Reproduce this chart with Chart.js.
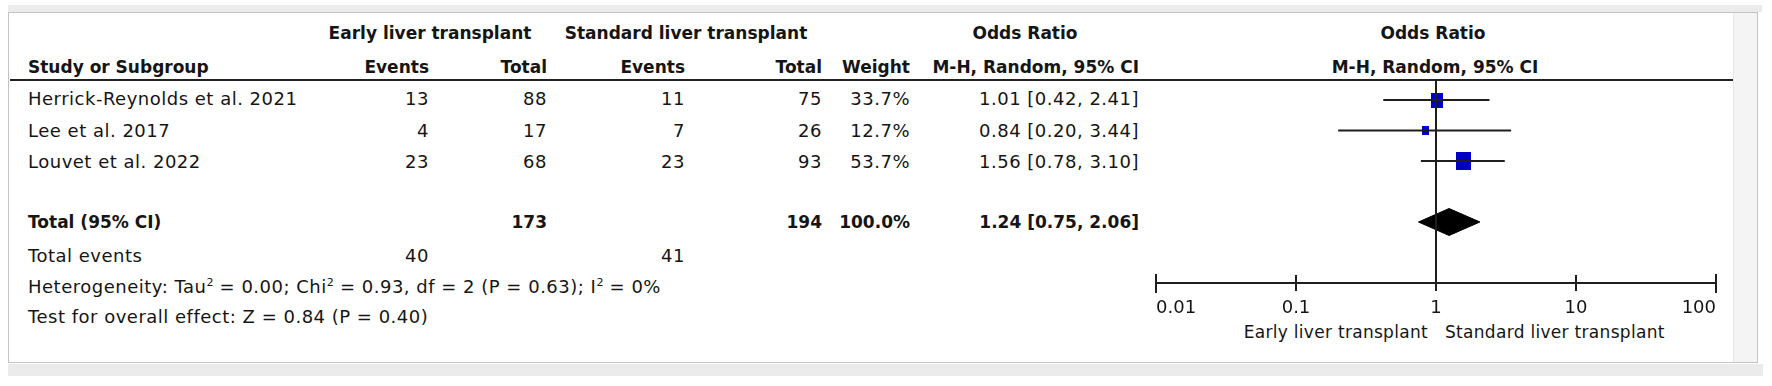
<!DOCTYPE html>
<html>
<head>
<meta charset="utf-8">
<script src="https://cdn.jsdelivr.net/npm/chart.js@4.4.1/dist/chart.umd.min.js"></script>
<style>
  html, body { margin: 0; padding: 0; background: #fff; }
  body { width: 1772px; height: 386px; position: relative; overflow: hidden;
         font-family: "DejaVu Sans", sans-serif; font-size: 18px; color: #151515; }
  .t { position: absolute; white-space: nowrap; line-height: 22px; letter-spacing: 0.5px; z-index: 3; }
  .b { font-weight: bold; letter-spacing: 0; font-size: 17px; }
  .s { font-size: 17px; letter-spacing: 0.3px; }
  .sup { font-size: 11px; position: relative; top: -7px; letter-spacing: 0; }
  #topband { position: absolute; left: 8px; top: 5px; width: 1754px; height: 7px; background: #ebebeb; }
  #panel { position: absolute; left: 8px; top: 12px; width: 1750px; height: 351px; box-sizing: border-box;
           border: 1px solid #c4c4c4; background: #fff; }
  #strip { position: absolute; left: 1733px; top: 13px; width: 24px; height: 349px; background: #f4f4f4;
           border-left: 1px solid #e4e4e4; box-sizing: border-box; }
  #bottomband { position: absolute; left: 8px; top: 364px; width: 1755px; height: 12px; background: #ebebeb; }
  #headline { position: absolute; left: 10px; top: 79px; width: 1723px; height: 2px; background: #222; z-index: 2; }
  #forest { position: absolute; left: 1120px; top: 60px; z-index: 4; }
</style>
</head>
<body>
<div id="topband"></div>
<div id="panel"></div>
<div id="strip"></div>
<div id="bottomband"></div>
<div id="headline"></div>
<canvas id="forest" width="640" height="260"></canvas>
<script>
// Study data
const studies = ["Herrick-Reynolds et al. 2021", "Lee et al. 2017", "Louvet et al. 2022"];
const earlyEvents = [13, 4, 23];
const earlyTotal = [88, 17, 68];
const standardEvents = [11, 7, 23];
const standardTotal = [75, 26, 93];
const weights = [33.7, 12.7, 53.7];
const weightTotal = 100.0;
const oddsRatio = [1.01, 0.84, 1.56];
const ciLow = [0.42, 0.20, 0.78];
const ciHigh = [2.41, 3.44, 3.10];

// Pooled estimate: OR, lower, upper
const pooled = [1.24, 0.75, 2.06];

// Statistics lines
const heterogeneity = [0.00, 0.93, 2, 0.63, 0]; // Tau2, Chi2, df, P, I2
const overallEffect = [0.84, 0.40]; // Z, P

const xTicks = [0.01, 0.1, 1, 10, 100];

// ---------- table text ----------
function put(html, x, y, align, cls) {
  const el = document.createElement("div");
  el.className = "t" + (cls ? " " + cls : "");
  el.innerHTML = html;
  el.style.top = (y - 11) + "px";
  if (align === "right") el.style.right = (1772 - x) + "px";
  else if (align === "center") { el.style.left = x + "px"; el.style.transform = "translateX(-50%)"; }
  else el.style.left = x + "px";
  document.body.appendChild(el);
}

const col = { name: 28, ev1: 429, tot1: 547, ev2: 685, tot2: 822, weight: 910, or: 1139 };
const fmtCI = (o, l, h) => `${o.toFixed(2)} [${l.toFixed(2)}, ${h.toFixed(2)}]`;
const sum = (a) => a.reduce((s, v) => s + v, 0);

put("Early liver transplant", 430, 33, "center", "b");
put("Standard liver transplant", 686, 33, "center", "b");
put("Odds Ratio", 1025, 33, "center", "b");
put("Odds Ratio", 1433, 33, "center", "b");

put("Study or Subgroup", col.name, 67, "left", "b");
put("Events", col.ev1, 67, "right", "b");
put("Total", col.tot1, 67, "right", "b");
put("Events", col.ev2, 67, "right", "b");
put("Total", col.tot2, 67, "right", "b");
put("Weight", col.weight, 67, "right", "b");
put("M-H, Random, 95% CI", col.or, 67, "right", "b");
put("M-H, Random, 95% CI", 1435, 67, "center", "b");

const rowTextY = [99, 131, 162];
studies.forEach((s, i) => {
  const y = rowTextY[i];
  put(s, col.name, y, "left");
  put(earlyEvents[i], col.ev1, y, "right");
  put(earlyTotal[i], col.tot1, y, "right");
  put(standardEvents[i], col.ev2, y, "right");
  put(standardTotal[i], col.tot2, y, "right");
  put(weights[i].toFixed(1) + "%", col.weight, y, "right");
  put(fmtCI(oddsRatio[i], ciLow[i], ciHigh[i]), col.or, y, "right");
});

put("Total (95% CI)", col.name, 222, "left", "b");
put(sum(earlyTotal), col.tot1, 222, "right", "b");
put(sum(standardTotal), col.tot2, 222, "right", "b");
put(weightTotal.toFixed(1) + "%", col.weight, 222, "right", "b");
put(fmtCI(pooled[0], pooled[1], pooled[2]), col.or, 222, "right", "b");

put("Total events", col.name, 256, "left");
put(sum(earlyEvents), col.ev1, 256, "right");
put(sum(standardEvents), col.ev2, 256, "right");

const h = heterogeneity;
put(`Heterogeneity: Tau<span class="sup">2</span> = ${h[0].toFixed(2)}; Chi<span class="sup">2</span> = ${h[1].toFixed(2)}, df = ${h[2]} (P = ${h[3].toFixed(2)}); I<span class="sup">2</span> = ${h[4]}%`, col.name, 287, "left");
put(`Test for overall effect: Z = ${overallEffect[0].toFixed(2)} (P = ${overallEffect[1].toFixed(2)})`, col.name, 317, "left");

put("Early liver transplant", 1428, 332, "right", "s");
put("Standard liver transplant", 1445, 332, "left", "s");

// ---------- forest plot ----------
Chart.defaults.font.family = '"DejaVu Sans", sans-serif';
Chart.defaults.font.size = 17;
Chart.defaults.color = "#151515";

const pxPerRow = 30.5;
const yMin = 1 - 20 / pxPerRow;
const yMax = yMin + 203 / pxPerRow;
const totalRow = studies.length + 2;
const diamondHalf = 13.5 / pxPerRow;

// study markers: blue boxes sized by weight, a little taller than wide
const markers = weights.map(w => {
  const c = document.createElement("canvas");
  c.width = Math.round(2.0 * Math.sqrt(w));
  c.height = Math.round(2.5 * Math.sqrt(w));
  const g = c.getContext("2d");
  g.fillStyle = "#0000c4";
  g.fillRect(0, 0, c.width, c.height);
  return c;
});

const ciSets = studies.map((s, i) => ({
  type: "line",
  data: [{ x: ciLow[i], y: i + 1 }, { x: ciHigh[i], y: i + 1 }],
  borderColor: "#1e1e1e",
  borderWidth: 2,
  pointRadius: 0
}));

const tickMarks = {
  id: "tickMarks",
  afterDraw(chart) {
    const { ctx, chartArea, scales } = chart;
    ctx.save();
    ctx.strokeStyle = "#1e1e1e";
    ctx.lineWidth = 2;
    xTicks.forEach((v, i) => {
      const x = Math.round(scales.x.getPixelForValue(v));
      const end = i === 0 || i === xTicks.length - 1;
      ctx.beginPath();
      ctx.moveTo(x, chartArea.bottom - (end ? 9 : 8));
      ctx.lineTo(x, chartArea.bottom + (end ? 10 : 8));
      ctx.stroke();
    });
    ctx.restore();
  }
};

new Chart(document.getElementById("forest").getContext("2d"), {
  type: "scatter",
  data: {
    datasets: [
      {
        type: "line",
        data: [{ x: 1, y: yMin }, { x: 1, y: yMax }],
        borderColor: "#1e1e1e",
        borderWidth: 2,
        pointRadius: 0
      },
      ...ciSets,
      {
        type: "scatter",
        data: studies.map((s, i) => ({ x: oddsRatio[i], y: i + 1 })),
        pointStyle: markers,
        pointRadius: 8
      },
      {
        type: "line",
        data: [
          { x: pooled[1], y: totalRow },
          { x: pooled[0], y: totalRow - diamondHalf },
          { x: pooled[2], y: totalRow },
          { x: pooled[0], y: totalRow + diamondHalf },
          { x: pooled[1], y: totalRow }
        ],
        borderColor: "#000",
        backgroundColor: "#000",
        borderWidth: 1,
        pointRadius: 0,
        fill: "shape",
        tension: 0
      }
    ]
  },
  options: {
    responsive: false,
    animation: false,
    layout: { padding: { left: 36, right: 44, top: 20, bottom: 0 } },
    plugins: { legend: { display: false }, tooltip: { enabled: false } },
    scales: {
      x: {
        type: "logarithmic",
        min: 0.01,
        max: 100,
        afterBuildTicks: (scale) => { scale.ticks = xTicks.map(v => ({ value: v })); },
        afterFit: (scale) => { scale.height = 37; },
        ticks: {
          align: "inner",
          padding: 7,
          autoSkip: false,
          maxRotation: 0,
          font: { size: 18 },
          callback: (v) => String(v)
        },
        grid: { display: false },
        border: { display: true, color: "#1e1e1e", width: 2 }
      },
      y: {
        type: "linear",
        reverse: true,
        min: yMin,
        max: yMax,
        display: false
      }
    }
  },
  plugins: [tickMarks]
});
</script>
</body>
</html>
